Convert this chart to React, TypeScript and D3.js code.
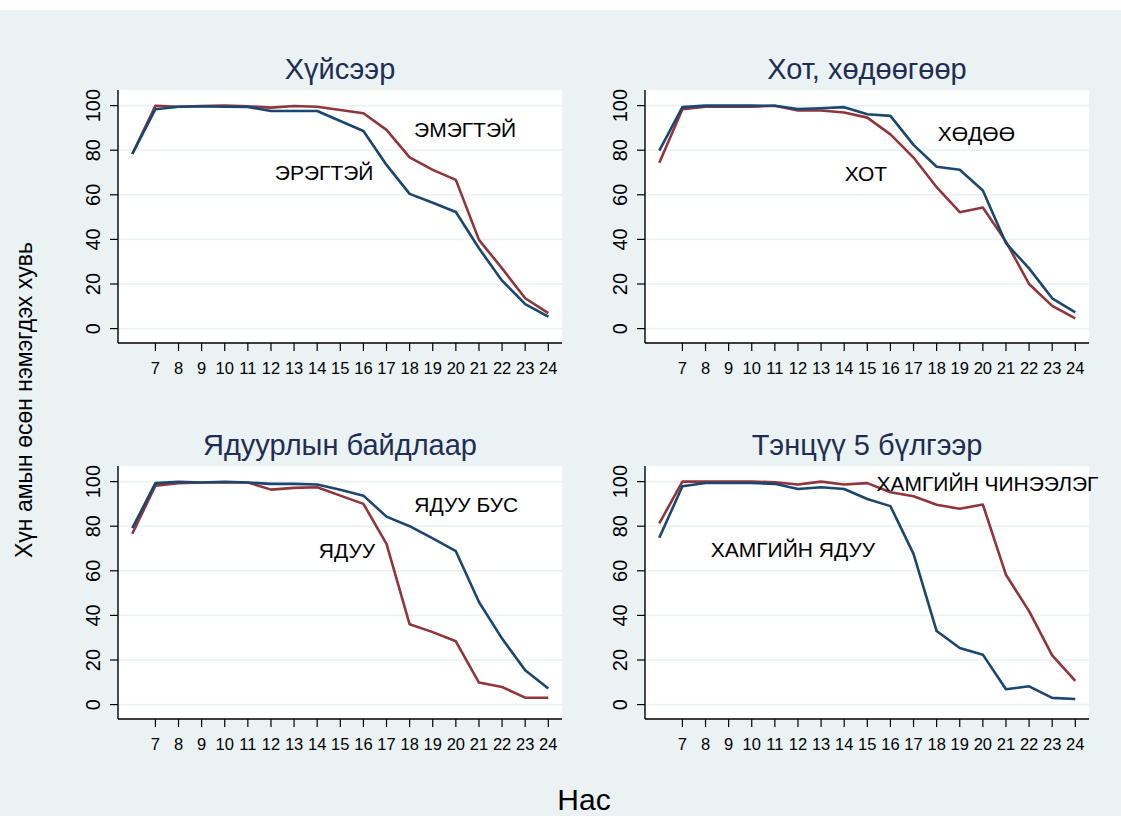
import React from "react";
import * as d3 from "d3";

const ages = [6, 7, 8, 9, 10, 11, 12, 13, 14, 15, 16, 17, 18, 19, 20, 21, 22, 23, 24];
const xTickLabels = [7, 8, 9, 10, 11, 12, 13, 14, 15, 16, 17, 18, 19, 20, 21, 22, 23, 24];
const yTickLabels = [0, 20, 40, 60, 80, 100];

const titles = ["Хүйсээр", "Хот, хөдөөгөөр", "Ядуурлын байдлаар", "Тэнцүү 5 бүлгээр"];

// Panel 1: by sex
const male = [78.3, 98.4, 99.5, 99.7, 99.5, 99.4, 97.6, 97.6, 97.6, 93.1, 88.6, 73.4, 60.4, 56.4, 52.3, 36.0, 21.5, 11.0, 5.4];
const female = [78.3, 99.9, 99.5, 99.8, 100.0, 99.7, 99.1, 99.8, 99.5, 98.0, 96.6, 89.1, 76.8, 71.2, 66.7, 39.8, 27.0, 13.6, 6.9];
// Panel 2: urban / rural
const rural = [79.8, 99.3, 100.0, 100.0, 100.0, 99.9, 98.5, 98.8, 99.3, 96.1, 95.4, 82.4, 72.6, 71.2, 61.9, 38.3, 27.0, 13.6, 7.3];
const urban = [74.4, 98.4, 99.5, 99.5, 99.5, 99.9, 97.8, 97.8, 96.9, 94.6, 87.1, 76.7, 63.4, 52.2, 54.3, 39.0, 20.0, 10.2, 4.6];
// Panel 3: poverty status
const nonPoor = [79.1, 99.3, 99.9, 99.6, 99.9, 99.6, 99.0, 99.0, 98.7, 96.3, 93.7, 84.3, 80.0, 74.5, 68.8, 46.0, 29.6, 15.4, 7.2];
const poor = [76.6, 98.2, 99.3, 99.6, 99.6, 99.6, 96.4, 97.2, 97.5, 93.7, 90.0, 72.1, 36.0, 32.5, 28.4, 9.9, 7.9, 3.1, 3.1];
// Panel 4: quintiles
const poorest = [74.8, 97.9, 99.4, 99.4, 99.4, 99.0, 96.7, 97.5, 96.7, 92.2, 89.0, 67.6, 33.0, 25.4, 22.4, 6.9, 8.2, 3.0, 2.5];
const richest = [81.3, 100.0, 100.0, 100.0, 100.0, 99.7, 98.7, 100.0, 98.7, 99.3, 95.2, 93.4, 89.6, 87.8, 89.7, 58.2, 41.9, 22.1, 10.6];

// series labels: [text, age, value]
const labels1: [string, number, number][] = [["ЭМЭГТЭЙ", 20.4, 86], ["ЭРЭГТЭЙ", 14.3, 66.7]];
const labels2: [string, number, number][] = [["ХӨДӨӨ", 19.72, 84.3], ["ХОТ", 14.94, 66.4]];
const labels3: [string, number, number][] = [["ЯДУУ БУС", 20.45, 86.4], ["ЯДУУ", 15.29, 65.9]];
const labels4: [string, number, number][] = [["ХАМГИЙН ЧИНЭЭЛЭГ", 20.2, 96], ["ХАМГИЙН ЯДУУ", 11.78, 66.1]];

const NAVY = "#1a476f";
const MAROON = "#90353b";
const BG = "#eaf2f3";
const FONT = "'Liberation Sans', Arial, sans-serif";

const panels = [
  { title: titles[0], navy: male, maroon: female, labels: labels1, x0: 118, y0: 90 },
  { title: titles[1], navy: rural, maroon: urban, labels: labels2, x0: 645, y0: 90 },
  { title: titles[2], navy: nonPoor, maroon: poor, labels: labels3, x0: 118, y0: 466 },
  { title: titles[3], navy: poorest, maroon: richest, labels: labels4, x0: 645, y0: 466 },
];

const PW = 444;
const PH = 253;

function Panel({ p }: { p: (typeof panels)[number] }) {
  const x = d3.scaleLinear().domain([6, 24]).range([p.x0 + 14.3, p.x0 + 430.3]);
  const y = d3.scaleLinear().domain([0, 100]).range([p.y0 + 238.6, p.y0 + 15.6]);
  const line = d3
    .line<number>()
    .x((_, i) => x(ages[i]))
    .y((d) => y(d));
  const axisY = p.y0 + PH;
  return (
    <g>
      <rect x={p.x0} y={p.y0} width={PW} height={PH} fill="#ffffff" />
      {yTickLabels.map((t) => (
        <line key={"g" + t} x1={p.x0} x2={p.x0 + PW} y1={y(t)} y2={y(t)} stroke={BG} strokeWidth={1.6} />
      ))}
      <path d={line(p.maroon) || ""} fill="none" stroke={MAROON} strokeWidth={2.6} strokeLinejoin="round" />
      <path d={line(p.navy) || ""} fill="none" stroke={NAVY} strokeWidth={2.6} strokeLinejoin="round" />
      <line x1={p.x0} x2={p.x0} y1={p.y0} y2={axisY} stroke="#000" strokeWidth={1.4} />
      <line x1={p.x0} x2={p.x0 + PW} y1={axisY} y2={axisY} stroke="#000" strokeWidth={1.4} />
      {yTickLabels.map((t) => (
        <g key={"yt" + t}>
          <line x1={p.x0 - 8} x2={p.x0} y1={y(t)} y2={y(t)} stroke="#000" strokeWidth={1.2} />
          <text
            transform={`translate(${p.x0 - 18},${y(t)}) rotate(-90)`}
            textAnchor="middle"
            fontSize={20}
            fontFamily={FONT}
            fill="#000"
          >
            {t}
          </text>
        </g>
      ))}
      {xTickLabels.map((t) => (
        <g key={"xt" + t}>
          <line x1={x(t)} x2={x(t)} y1={axisY} y2={axisY + 8} stroke="#000" strokeWidth={1.2} />
          <text x={x(t)} y={axisY + 31} textAnchor="middle" fontSize={16.5} fontFamily={FONT} fill="#000">
            {t}
          </text>
        </g>
      ))}
      {p.labels.map(([txt, ax, v]) => (
        <text key={txt} x={x(ax)} y={y(v)} textAnchor="middle" fontSize={21} fontFamily={FONT} fill="#000">
          {txt}
        </text>
      ))}
      <text x={p.x0 + PW / 2} y={p.y0 - 11} textAnchor="middle" fontSize={29} fontFamily={FONT} fill="#1f2d55">
        {p.title}
      </text>
    </g>
  );
}

export default function App() {
  return (
    <div style={{ position: "fixed", left: 0, top: 0 }}>
      <svg width={1121} height={816} style={{ display: "block" }}>
        <rect x={0} y={0} width={1121} height={816} fill="#ffffff" />
        <rect x={0} y={10} width={1121} height={806} fill={BG} />
        {panels.map((p, i) => (
          <Panel key={i} p={p} />
        ))}
        <text
          transform="translate(32,400) rotate(-90)"
          textAnchor="middle"
          fontSize={23}
          fontFamily={FONT}
          fill="#000"
        >
          Хүн амын өсөн нэмэгдэх хувь
        </text>
        <text x={584} y={810} textAnchor="middle" fontSize={30} fontFamily={FONT} fill="#000">
          Нас
        </text>
      </svg>
    </div>
  );
}
